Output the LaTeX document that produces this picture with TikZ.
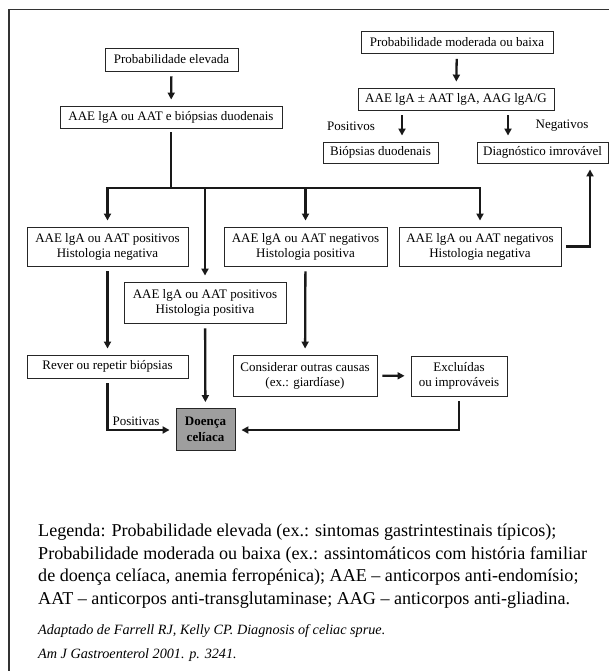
\documentclass[tikz,border=0pt]{standalone}
\usepackage{fontspec}
\setmainfont{Liberation Serif}
\usetikzlibrary{arrows.meta}
\begin{document}
\begin{tikzpicture}[x=1pt,y=-1pt,
 box/.style={draw=black!85, line width=0.9pt, inner sep=0pt, align=center, font=\fontsize{13}{15}\selectfont},
 conn/.style={line width=2.3pt, draw=black!90, shorten <=5pt},
 arr/.style={conn, -{Triangle[length=7pt,width=7pt]}, shorten >=6pt},
 lbl/.style={inner sep=0pt, font=\fontsize{13}{15}\selectfont}
]
\useasboundingbox (0,0) rectangle (609,671);
\fill[white] (0,0) rectangle (609,671);
% frame
\draw[line width=1.2pt, black!80] (9,671) -- (9,9.5) -- (609,9.5);

% nodes
\node[box, minimum width=133pt, minimum height=23pt] (pe) at (171.5,59.5) {Probabilidade elevada};
\node[box, minimum width=222pt, minimum height=22pt] (ab) at (171,117) {AAE lgA ou AAT e biópsias duodenais};
\node[box, minimum width=192pt, minimum height=22pt] (pm) at (457,42.5) {Probabilidade moderada ou baixa};
\node[box, minimum width=196pt, minimum height=22pt] (aa) at (456,99) {AAE lgA ± AAT lgA, AAG lgA/G};
\node[box, minimum width=115pt, minimum height=21pt] (bd) at (380.5,152.5) {Biópsias duodenais};
\node[box, minimum width=131pt, minimum height=21pt] (di) at (542.5,152.5) {Diagnóstico imrovável};
\node[lbl] (pos) at (351,126) {Positivos};
\node[lbl] (neg) at (562,126) {Negativos};

\node[box, minimum width=161pt, minimum height=39pt] (b1) at (107.5,246.5) {AAE lgA ou AAT positivos\\Histologia negativa};
\node[box, minimum width=163pt, minimum height=39pt] (b2) at (305.5,246.5) {AAE lgA ou AAT negativos\\Histologia positiva};
\node[box, minimum width=162pt, minimum height=39pt] (b3) at (480,246.5) {AAE lgA ou AAT negativos\\Histologia negativa};
\node[box, minimum width=162pt, minimum height=41pt] (b4) at (205,302.5) {AAE lgA ou AAT positivos\\Histologia positiva};
\node[box, minimum width=161pt, minimum height=23pt] (rv) at (107.5,366.5) {Rever ou repetir biópsias};
\node[box, minimum width=144pt, minimum height=41pt] (co) at (305,375.5) {Considerar outras causas\\(ex.: giardíase)};
\node[box, minimum width=96pt, minimum height=40pt] (ex) at (459,376) {Excluídas\\ou improváveis};
\node[box, fill=black!38, minimum width=59pt, minimum height=42pt, font=\fontsize{13}{15.5}\selectfont\bfseries] (dc) at (205.5,429.5) {Doença\\celíaca};
\node[lbl, anchor=base] (pvs) at (136,425) {Positivas};

% coordinates
\coordinate (xp) at (402,0);
\coordinate (xn) at (508,0);
\coordinate (bar) at (0,188);
\coordinate (xm) at (205,0);
\coordinate (xr) at (590,0);
\coordinate (ylow) at (0,430);

% connectors
\draw[arr] (pe) -- (ab);
\draw[arr] (pm) -- (aa);
\draw[arr] (aa.south -| xp) -- (bd.north -| xp);
\draw[arr] (aa.south -| xn) -- (di.north -| xn);
\draw[conn, line cap=rect] (ab.south) -- (ab.south |- bar);
\draw[conn, shorten <=0pt, line cap=rect] (b1.north |- bar) -- (b3.north |- bar);
\draw[arr, shorten <=0pt] (b1.north |- bar) -- (b1.north);
\draw[arr, shorten <=0pt] (b2.north |- bar) -- (b2.north);
\draw[arr, shorten <=0pt] (b3.north |- bar) -- (b3.north);
\draw[arr, shorten <=0pt] (xm |- bar) -- (b4.north);
\draw[arr] (b3.east) -- (b3.east -| xr) -- (di.south -| xr);
\draw[arr] (b1) -- (rv);
\draw[arr] (b2) -- (co);
\draw[arr] (b4) -- (dc);
\draw[arr] (co) -- (ex);
\draw[arr] (rv.south) -- (rv.south |- ylow) -- (dc.west |- ylow);
\draw[arr] (ex.south) -- (ex.south |- ylow) -- (dc.east |- ylow);

% legend
\node[anchor=base west, inner sep=0pt, align=left, font=\fontsize{18.1}{22.5}\selectfont] (leg) at (38,604) {Legenda: Probabilidade elevada (ex.: sintomas gastrintestinais típicos);\\Probabilidade moderada ou baixa (ex.: assintomáticos com história familiar\\de doença celíaca, anemia ferropénica); AAE – anticorpos anti-endomísio;\\AAT – anticorpos anti-transglutaminase; AAG – anticorpos anti-gliadina.};
\node[anchor=base west, inner sep=0pt, align=left, font=\fontsize{14.2}{24}\selectfont\itshape] (cit) at (38,658) {Adaptado de Farrell RJ, Kelly CP. Diagnosis of celiac sprue.\\Am J Gastroenterol 2001. p. 3241.};
\end{tikzpicture}
\end{document}
